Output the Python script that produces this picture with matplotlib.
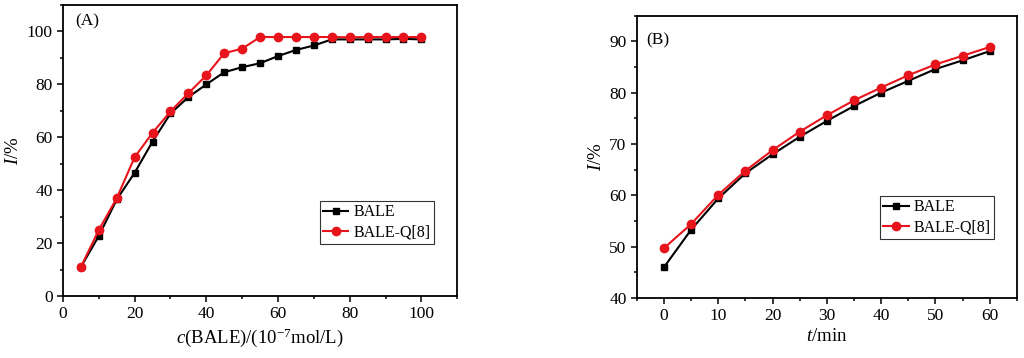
import matplotlib
matplotlib.use("Agg")
import matplotlib.pyplot as plt
import numpy as np
from matplotlib.ticker import MultipleLocator

plt.rcParams['font.family'] = ['Liberation Serif', 'DejaVu Serif']
plt.rcParams['mathtext.fontset'] = 'custom'
plt.rcParams['mathtext.rm'] = 'Liberation Serif'
plt.rcParams['mathtext.it'] = 'Liberation Serif:italic'

# panel A: concentration series
conc = np.arange(5, 101, 5)
bale_a = [11, 22.7, 36.5, 46.6, 58.4, 69, 75.2, 80, 84.6, 86.5,
          88, 90.7, 93, 94.7, 97, 97, 97, 97, 97.2, 97]
baleq_a = [11, 25, 37, 52.5, 61.7, 69.8, 76.7, 83.4, 91.8, 93.5,
           97.9, 97.9, 97.9, 97.9, 97.9, 97.8, 97.9, 97.9, 97.9, 97.9]

# panel B: time series
t = np.arange(0, 61, 5)
bale_b = [46, 53.3, 59.4, 64.3, 68, 71.4, 74.5, 77.4, 80, 82.3, 84.6, 86.3, 88.1]
baleq_b = [49.7, 54.4, 60.1, 64.8, 68.8, 72.4, 75.6, 78.5, 81, 83.4, 85.5, 87.2, 88.9]

fig = plt.figure(figsize=(10.24, 3.58), dpi=100)
axA = fig.add_axes([0.0615, 0.173, 0.385, 0.813])
axB = fig.add_axes([0.622, 0.168, 0.371, 0.788])


def style(ax):
    for s in ax.spines.values():
        s.set_linewidth(1.3)
    ax.tick_params(which='both', direction='out', top=False, right=False,
                   labelsize=12.5, width=1.1)
    ax.tick_params(which='major', length=4)
    ax.tick_params(which='minor', length=2.5)


def draw(ax, x, y1, y2):
    ax.plot(x, y1, color='black', marker='s', markersize=5, lw=1.5, label='BALE')
    ax.plot(x, y2, color='#e8141c', marker='o', markersize=6, lw=1.5, label='BALE-Q[8]')


def legend(ax, anchor):
    leg = ax.legend(loc='lower right', bbox_to_anchor=anchor, fontsize=11.5,
                    frameon=True, fancybox=False, edgecolor='black',
                    handlelength=1.6, borderpad=0.2, labelspacing=0.25,
                    handletextpad=0.3, borderaxespad=0)
    leg.get_frame().set_linewidth(0.8)


draw(axA, conc, bale_a, baleq_a)
axA.set_xlim(0, 110)
axA.set_ylim(0, 110)
axA.xaxis.set_major_locator(MultipleLocator(20))
axA.xaxis.set_minor_locator(MultipleLocator(10))
axA.yaxis.set_major_locator(MultipleLocator(20))
axA.yaxis.set_minor_locator(MultipleLocator(10))
axA.set_xlabel(r'$c$(BALE)/(10$^{-7}$mol/L)', fontsize=13.5, labelpad=3)
axA.set_ylabel(r'$I$/%', fontsize=13.5, labelpad=3)
axA.text(0.03, 0.93, '(A)', transform=axA.transAxes, fontsize=12.5)
style(axA)
legend(axA, (0.94, 0.18))

draw(axB, t, bale_b, baleq_b)
axB.set_xlim(-5, 65)
axB.set_ylim(40, 95)
axB.xaxis.set_major_locator(MultipleLocator(10))
axB.xaxis.set_minor_locator(MultipleLocator(5))
axB.yaxis.set_major_locator(MultipleLocator(10))
axB.yaxis.set_minor_locator(MultipleLocator(5))
axB.set_xlabel(r'$t$/min', fontsize=13.5, labelpad=3)
axB.set_ylabel(r'$I$/%', fontsize=13.5, labelpad=3)
axB.text(0.025, 0.90, '(B)', transform=axB.transAxes, fontsize=12.5)
style(axB)
legend(axB, (0.94, 0.21))

fig.savefig('out.png', dpi=100)
